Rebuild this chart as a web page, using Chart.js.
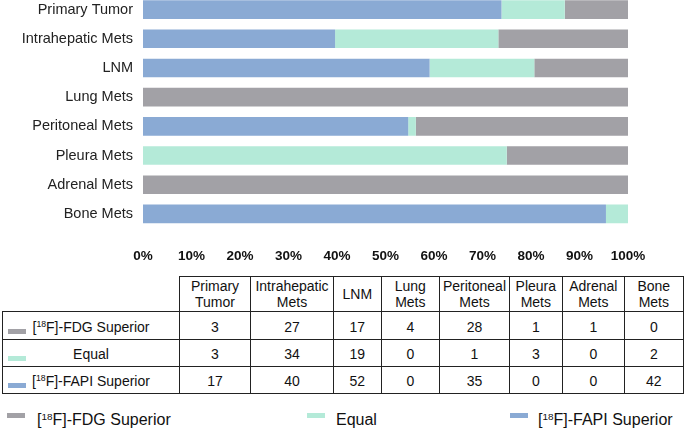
<!DOCTYPE html>
<html><head><meta charset="utf-8">
<script src="https://cdn.jsdelivr.net/npm/chart.js@4/dist/chart.umd.min.js"></script>
<style>
html,body{margin:0;padding:0;background:#fff;width:685px;height:429px;overflow:hidden;font-family:"Liberation Sans",Arial,sans-serif;color:#111;}
#wrap{position:absolute;left:0;top:-5px;width:685px;height:274px;}
#tbl{position:absolute;left:2px;top:276px;border-collapse:collapse;table-layout:fixed;font-size:14px;}
#tbl td{border:1.5px solid #222;text-align:center;padding:0;position:relative;line-height:16.5px;}
#tbl td.corner{border-top:none;border-left:none;}
#tbl tr.body td{padding-top:3px;}
.sw{position:absolute;left:5px;bottom:5px;width:18px;height:5px;}
sup{font-size:0.62em;vertical-align:0;position:relative;top:-0.55em;line-height:0;}
#legend{position:absolute;left:0;top:405px;width:685px;height:24px;font-size:16px;}
.li{position:absolute;top:0;line-height:20px;white-space:nowrap;}
.li .lsw{position:absolute;top:8px;width:18px;height:5px;}
.li .lt{position:absolute;top:5px;}
</style></head>
<body>
<div id="wrap"><canvas id="c" width="685" height="274"></canvas></div>
<table id="tbl"></table>
<div id="legend"></div>
<script>
const categories = ['Primary Tumor','Intrahepatic Mets','LNM','Lung Mets','Peritoneal Mets','Pleura Mets','Adrenal Mets','Bone Mets'];
const fdgSuperior = [3,27,17,4,28,1,1,0];
const equalCounts = [3,34,19,0,1,3,0,2];
const fapiSuperior = [17,40,52,0,35,0,0,42];
const xTickLabels = ['0%','10%','20%','30%','40%','50%','60%','70%','80%','90%','100%'];
const seriesNames = ['[18F]-FDG Superior','Equal','[18F]-FAPI Superior'];
const colors = {fdg:'#a2a1a6', equal:'#b4ead8', fapi:'#8aaad4'};

const totals = categories.map((_, i) => fdgSuperior[i] + equalCounts[i] + fapiSuperior[i]);
const pct = arr => arr.map((v, i) => totals[i] ? v / totals[i] * 100 : 0);

const fontFam = '"Liberation Sans", Arial, sans-serif';
new Chart(document.getElementById('c'), {
  type: 'bar',
  data: {
    labels: categories,
    datasets: [
      {label: seriesNames[2], data: pct(fapiSuperior), backgroundColor: colors.fapi},
      {label: seriesNames[1], data: pct(equalCounts), backgroundColor: colors.equal},
      {label: seriesNames[0], data: pct(fdgSuperior), backgroundColor: colors.fdg}
    ]
  },
  options: {
    indexAxis: 'y',
    responsive: false,
    animation: false,
    layout: {padding: {left: 0, right: 57, top: 0, bottom: 0}},
    plugins: {legend: {display: false}, tooltip: {enabled: false}},
    datasets: {bar: {categoryPercentage: 1, barPercentage: 0.64, borderWidth: 0}},
    scales: {
      x: {
        stacked: true, min: 0, max: 100,
        grid: {display: false, drawTicks: false}, border: {display: false},
        ticks: {stepSize: 10, padding: 20, maxRotation: 0, autoSkip: false, color: '#111',
          font: {family: fontFam, size: 13.5, weight: 'bold'},
          callback: (v, i) => xTickLabels[i]},
        afterFit: s => { s.height = 40.5; }
      },
      y: {
        stacked: true,
        grid: {display: false, drawTicks: false}, border: {display: false},
        ticks: {padding: 10, color: '#222', font: {family: fontFam, size: 14.5}},
        afterFit: s => { s.width = 143; s.paddingTop = 0; s.paddingBottom = 0; }
      }
    }
  }
});

// table
const sup = s => s.replace('18', '<sup>18</sup>');
const colW = [177, 71, 83, 47.7, 58.3, 70, 52.7, 62.3, 58.7];
const tbl = document.getElementById('tbl');
let html = '<colgroup>' + colW.map(w => `<col style="width:${w}px">`).join('') + '</colgroup>';
html += '<tr style="height:35px"><td class="corner"></td>' + categories.map(c => `<td>${c.replace(' ', '<br>')}</td>`).join('') + '</tr>';
const rows = [[seriesNames[0], colors.fdg, fdgSuperior, 28], [seriesNames[1], colors.equal, equalCounts, 27], [seriesNames[2], colors.fapi, fapiSuperior, 27]];
rows.forEach(([name, col, vals, h]) => {
  html += `<tr class="body" style="height:${h}px"><td><span class="sw" style="background:${col}"></span>${sup(name)}</td>` + vals.map(v => `<td>${v}</td>`).join('') + '</tr>';
});
tbl.innerHTML = html;

// legend
const legendItems = [[seriesNames[0], colors.fdg, 7, 37], [seriesNames[1], colors.equal, 307, 336], [seriesNames[2], colors.fapi, 510, 538]];
document.getElementById('legend').innerHTML = legendItems.map(([n, c, bx, tx]) =>
  `<span class="li" style="left:${bx}px"><span class="lsw" style="left:0;background:${c}"></span><span class="lt" style="left:${tx - bx}px">${sup(n)}</span></span>`).join('');
</script>
</body></html>
